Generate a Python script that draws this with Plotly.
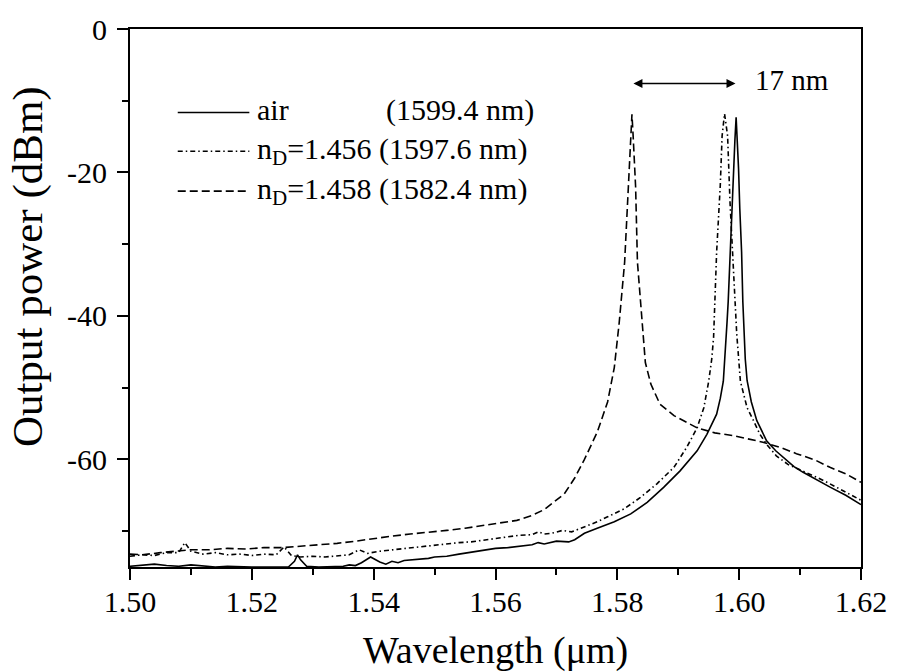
import plotly.graph_objects as go

# ---------------- data (wavelength in µm, power in dBm) ----------------
wl_air = [1.500, 1.502, 1.504, 1.506, 1.508, 1.510, 1.512, 1.514, 1.516, 1.518,
          1.520, 1.522, 1.524, 1.526, 1.527, 1.5275, 1.528, 1.529, 1.531, 1.533,
          1.535, 1.536, 1.537, 1.538, 1.5395, 1.541, 1.542, 1.543, 1.544, 1.545,
          1.547, 1.549, 1.550, 1.552, 1.554, 1.556, 1.558, 1.560, 1.562, 1.564,
          1.566, 1.567, 1.568, 1.570, 1.572, 1.573, 1.5746, 1.5767, 1.5795, 1.5822,
          1.5849, 1.5876, 1.5903, 1.5931, 1.5947, 1.5963, 1.5969, 1.5974, 1.5977, 1.5980,
          1.5982, 1.5985, 1.5988, 1.5991, 1.5993, 1.5995, 1.5997, 1.5999, 1.6001, 1.6004,
          1.6006, 1.6008, 1.6010, 1.6013, 1.6020, 1.6029, 1.6045, 1.6060, 1.6073, 1.6090,
          1.6105, 1.6130, 1.6150, 1.6175, 1.6200]
p_air = [-74.9, -74.8, -74.6, -74.8, -74.9, -74.7, -74.8, -75.0, -74.9, -75.0,
         -75.0, -75.0, -75.0, -75.0, -74.2, -73.3, -74.0, -74.9, -75.0, -75.0,
         -74.9, -74.7, -74.8, -74.4, -73.6, -74.3, -74.6, -74.2, -74.4, -74.1,
         -74.0, -73.8, -73.6, -73.5, -73.2, -72.9, -72.7, -72.4, -72.3, -72.1,
         -71.9, -71.6, -71.8, -71.4, -71.5, -71.2, -70.3, -69.6, -68.7, -67.6,
         -66.0, -63.9, -61.6, -58.8, -56.5, -53.7, -51.5, -49.1, -45.5, -41.0,
         -38.0, -31.1, -25.0, -19.5, -15.5, -12.3, -15.5, -19.5, -25.0, -31.1,
         -38.0, -42.0, -46.0, -49.0, -52.0, -54.6, -57.4, -58.8, -59.8, -61.0,
         -61.8, -63.0, -63.9, -65.0, -66.3]

wl_n1456 = [1.500, 1.502, 1.504, 1.506, 1.508, 1.509, 1.510, 1.512, 1.514, 1.516,
            1.518, 1.520, 1.522, 1.524, 1.5253, 1.5265, 1.528, 1.530, 1.532, 1.534,
            1.536, 1.5376, 1.539, 1.541, 1.543, 1.545, 1.547, 1.5495, 1.552, 1.554,
            1.556, 1.558, 1.560, 1.562, 1.5637, 1.566, 1.567, 1.568, 1.5692, 1.571,
            1.5725, 1.5746, 1.5767, 1.5784, 1.5811, 1.5838, 1.5865, 1.5893, 1.5914, 1.5931,
            1.5942, 1.5950, 1.5955, 1.5958, 1.5963, 1.5969, 1.5972, 1.5976, 1.5981, 1.5985,
            1.5991, 1.5996, 1.6002, 1.6013, 1.6023, 1.6034, 1.6045, 1.6061, 1.6080, 1.6105,
            1.6130, 1.6149, 1.6175, 1.6200]
p_n1456 = [-73.5, -73.3, -73.4, -73.0, -73.0, -71.6, -72.8, -73.2, -73.0, -73.3,
           -73.2, -73.4, -73.2, -73.3, -72.2, -73.4, -73.6, -73.5, -73.6, -73.4,
           -73.3, -72.6, -73.1, -72.8, -72.6, -72.4, -72.3, -72.0, -71.8, -71.6,
           -71.5, -71.3, -71.0, -70.8, -70.6, -70.5, -70.1, -70.4, -70.3, -69.9,
           -70.1, -69.4, -68.7, -68.0, -66.9, -65.3, -63.4, -61.1, -58.3, -55.6,
           -52.8, -49.1, -46.0, -43.0, -31.1, -21.8, -14.9, -11.8, -14.9, -24.2,
           -33.4, -42.5, -49.1, -52.8, -54.5, -56.5, -57.9, -59.5, -60.7, -61.6,
           -62.6, -63.4, -64.6, -65.7]

wl_n1458 = [1.500, 1.502, 1.505, 1.508, 1.510, 1.513, 1.516, 1.519, 1.522, 1.525,
            1.528, 1.531, 1.534, 1.537, 1.540, 1.543, 1.546, 1.549, 1.552, 1.555,
            1.558, 1.561, 1.5635, 1.566, 1.568, 1.5695, 1.5713, 1.573, 1.5746, 1.5767,
            1.5784, 1.5795, 1.5803, 1.5812, 1.5816, 1.5820, 1.5822, 1.5824, 1.5826, 1.5828,
            1.5830, 1.5833, 1.5838, 1.5843, 1.5846, 1.5855, 1.5870, 1.5893, 1.5931, 1.5960,
            1.5991, 1.6039, 1.6070, 1.6094, 1.6125, 1.6149, 1.6175, 1.6200]
p_n1458 = [-73.2, -73.3, -73.0, -72.8, -72.6, -72.6, -72.4, -72.5, -72.3, -72.3,
           -72.1, -72.0, -71.7, -71.4, -71.0, -70.7, -70.4, -70.2, -69.9, -69.6,
           -69.2, -68.8, -68.5, -67.8, -67.0, -66.0, -64.8, -62.6, -60.0, -56.2,
           -52.0, -47.2, -41.0, -32.5, -25.0, -18.6, -15.0, -11.9, -15.0, -18.6,
           -22.0, -32.5, -38.0, -43.0, -46.5, -49.5, -52.3, -53.9, -55.6, -56.3,
           -56.7, -57.6, -58.4, -59.2, -60.1, -61.1, -62.0, -63.2]

series_names = ["air", "n<sub>D</sub>=1.456 (1597.6 nm)", "n<sub>D</sub>=1.458 (1582.4 nm)"]
air_peak_label = "(1599.4 nm)"
peak_air_um = 1.5994
peak_n1458_um = 1.5824
separation_label = "17 nm"

x_tick_vals = [1.50, 1.52, 1.54, 1.56, 1.58, 1.60, 1.62]
x_tick_text = ["1.50", "1.52", "1.54", "1.56", "1.58", "1.60", "1.62"]
y_tick_vals = [0, -20, -40, -60]
y_tick_text = ["0", "-20", "-40", "-60"]

x_title = "Wavelength (μm)"
y_title = "Output power (dBm)"

# ---------------- styling ----------------
FONT = "Liberation Serif"
dash_styles = ["solid", "5px,3px,1.5px,3px", "8px,4px"]
LW = 1.6

fig = go.Figure()
for wl, p, name, dash in zip([wl_air, wl_n1456, wl_n1458],
                             [p_air, p_n1456, p_n1458],
                             series_names, dash_styles):
    fig.add_trace(go.Scatter(x=wl, y=p, mode="lines", name=name,
                             line=dict(color="black", width=LW, dash=dash),
                             showlegend=False))

axis_common = dict(showline=True, linecolor="black", linewidth=2, mirror=True,
                   ticks="outside", ticklen=11, tickwidth=2, tickcolor="black",
                   showgrid=False, zeroline=False,
                   tickfont=dict(family=FONT, size=30, color="black"))

fig.update_xaxes(range=[1.50, 1.62], tickmode="array", tickvals=x_tick_vals,
                 ticktext=x_tick_text, ticklabelstandoff=-4,
                 minor=dict(dtick=0.01, tick0=1.50, ticks="outside", ticklen=6,
                            tickwidth=2, tickcolor="black"),
                 **axis_common)
fig.update_yaxes(range=[-75, 0], tickmode="array", tickvals=y_tick_vals,
                 ticktext=y_tick_text, ticklabelstandoff=4,
                 minor=dict(dtick=10, tick0=0, ticks="outside", ticklen=6,
                            tickwidth=2, tickcolor="black"),
                 **axis_common)

# ---------------- custom legend ----------------
L_X0, L_X1 = (178 - 130) / 735, (250 - 130) / 735
row_y = [(567 - 110) / 541, (567 - 149) / 541, (567 - 189) / 541]
text_x = (257 - 130) / 735
text_shift = [3, 0, 0]
for i, (name, dash) in enumerate(zip(series_names, dash_styles)):
    fig.add_shape(type="line", xref="paper", yref="paper",
                  x0=L_X0, x1=L_X1, y0=row_y[i], y1=row_y[i],
                  line=dict(color="black", width=LW, dash=dash))
    fig.add_annotation(xref="paper", yref="paper", x=text_x, y=row_y[i],
                       xanchor="left", yanchor="middle", text=name,
                       showarrow=False, borderpad=0, yshift=text_shift[i],
                       font=dict(family=FONT, size=30, color="black"))
fig.add_annotation(xref="paper", yref="paper", x=(537 - 130) / 735, y=row_y[0],
                   xanchor="right", yanchor="middle", text=air_peak_label,
                   showarrow=False, borderpad=0, yshift=text_shift[0],
                   font=dict(family=FONT, size=30, color="black"))

# ---------------- 17 nm arrow ----------------
arrow_y = -7.6
fig.add_annotation(x=peak_air_um, y=arrow_y, ax=peak_n1458_um, ay=arrow_y,
                   xref="x", yref="y", axref="x", ayref="y", text="",
                   showarrow=True, arrowhead=2, arrowside="end+start",
                   arrowsize=1.2, arrowwidth=1.5, arrowcolor="black",
                   standoff=0, startstandoff=0)
fig.add_annotation(x=1.6087, y=arrow_y, xref="x", yref="y", text=separation_label,
                   showarrow=False, xanchor="center", yanchor="middle", yshift=4,
                   font=dict(family=FONT, size=29, color="black"))

# ---------------- axis titles ----------------
fig.add_annotation(xref="paper", yref="paper", x=0.5, y=0, yanchor="middle",
                   yshift=-83, text=x_title, showarrow=False,
                   font=dict(family=FONT, size=38, color="black"))
fig.add_annotation(xref="paper", yref="paper", x=0, y=0.5, xanchor="center",
                   yanchor="middle", xshift=-102, yshift=31, textangle=-90,
                   text=y_title, showarrow=False,
                   font=dict(family=FONT, size=43, color="black"))

fig.update_layout(width=899, height=672, autosize=False,
                  margin=dict(l=130, r=34, t=26, b=105),
                  paper_bgcolor="white", plot_bgcolor="white",
                  font=dict(family=FONT, color="black"))

fig.write_html("out.html", config={"displayModeBar": False},
               post_script="document.body.style.margin='0';document.body.style.padding='0';")
